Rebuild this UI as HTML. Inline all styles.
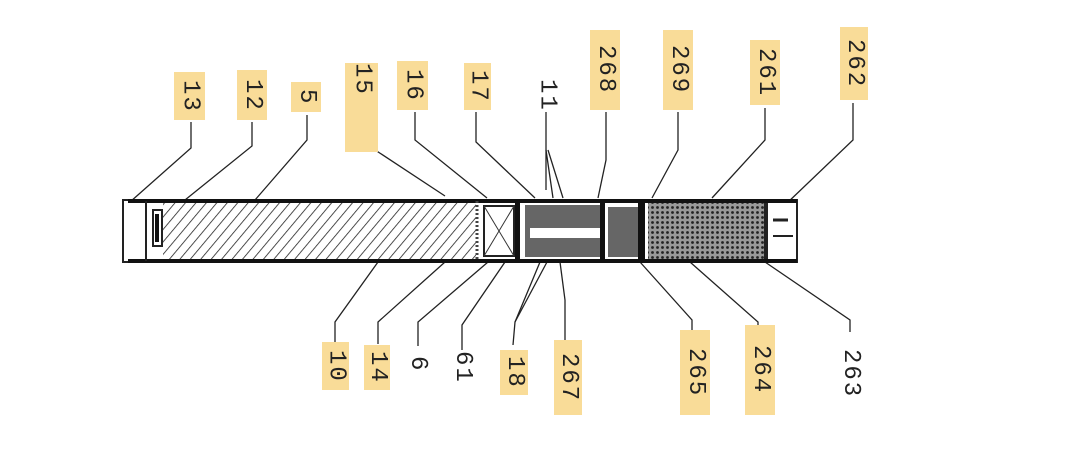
<!DOCTYPE html>
<html><head><meta charset="utf-8"><style>
html,body{margin:0;padding:0;background:#fff;width:1080px;height:455px;overflow:hidden}
.l{position:absolute;writing-mode:vertical-rl;font-family:"Liberation Mono",monospace;font-size:24px;color:#222;line-height:28px;text-align:center;letter-spacing:2px;display:flex;align-items:center;justify-content:center}
.y{background:#f9dc98}
</style></head><body>
<svg width="1080" height="455" style="position:absolute;left:0;top:0">
<defs>
<pattern id="h" width="8" height="8" patternUnits="userSpaceOnUse" patternTransform="rotate(40)"><line x1="0" y1="0" x2="0" y2="8" stroke="#222" stroke-width="1.6"/></pattern>
<pattern id="c" width="5" height="5" patternUnits="userSpaceOnUse"><rect width="5" height="5" fill="#999"/><circle cx="2.5" cy="2.5" r="1.4" fill="#222"/></pattern>
</defs>
<g stroke="#222" stroke-width="1.3" fill="none">
<polyline points="191,122 191,148 130,202"/>
<polyline points="252,122 252,146 185,200"/>
<polyline points="307,115 307,140 255,200"/>
<polyline points="360,115 360,140 445,196"/>
<polyline points="415,112 415,140 487,198"/>
<polyline points="476,112 476,142 535,198"/>
<polyline points="546,112 546,190"/><line x1="546" y1="150" x2="553" y2="198"/><line x1="548" y1="150" x2="563" y2="198"/>
<polyline points="606,112 606,160 598,198"/>
<polyline points="678,112 678,150 652,198"/>
<polyline points="765,108 765,140 712,198"/>
<polyline points="853,103 853,140 785,205"/>
<polyline points="335,342 335,322 378,262"/>
<polyline points="378,344 378,322 445,262"/>
<polyline points="418,346 418,322 488,262"/>
<polyline points="462,350 462,325 505,262"/>
<polyline points="513,345 515,322 540,262"/><line x1="515" y1="322" x2="547" y2="262"/>
<polyline points="565,340 565,300 560,262"/>
<polyline points="692,332 692,320 640,262"/>
<polyline points="758,330 758,322 690,262"/>
<polyline points="850,332 850,320 765,262"/>
</g>
<rect x="123" y="200" width="674" height="62" fill="#fff" stroke="#222" stroke-width="2"/>
<rect x="128" y="199" width="669" height="4" fill="#111"/>
<rect x="128" y="259" width="669" height="4" fill="#111"/>
<line x1="146" y1="201" x2="146" y2="261" stroke="#222" stroke-width="2"/>
<rect x="153" y="210" width="9" height="36" fill="none" stroke="#222" stroke-width="2"/>
<rect x="155" y="214" width="4" height="28" fill="#111"/>
<rect x="163" y="203" width="313" height="56" fill="url(#h)"/>
<line x1="477" y1="201" x2="477" y2="261" stroke="#444" stroke-width="3" stroke-dasharray="2 2"/>
<rect x="484" y="206" width="30" height="50" fill="none" stroke="#222" stroke-width="2"/>
<line x1="484" y1="206" x2="514" y2="256" stroke="#333"/><line x1="514" y1="206" x2="484" y2="256" stroke="#333"/>
<rect x="515" y="201" width="5" height="60" fill="#111"/>
<rect x="525" y="205" width="75" height="52" fill="#666"/>
<rect x="530" y="228" width="70" height="10" fill="#fff"/>
<rect x="600" y="201" width="5" height="60" fill="#111"/>
<rect x="608" y="207" width="30" height="50" fill="#666"/>
<rect x="638" y="203" width="7" height="56" fill="#111"/>
<rect x="648" y="203" width="116" height="56" fill="url(#c)"/>
<rect x="764" y="203" width="4" height="56" fill="#222"/>
<line x1="773" y1="220" x2="788" y2="220" stroke="#222" stroke-width="3"/>
<line x1="773" y1="236" x2="793" y2="236" stroke="#222" stroke-width="2"/>
</svg>
<div class="l y" style="left:174px;top:72px;width:31px;height:48px">13</div>
<div class="l y" style="left:237px;top:70px;width:30px;height:50px">12</div>
<div class="l y" style="left:291px;top:82px;width:30px;height:30px">5</div>
<div class="l y" style="left:345px;top:63px;width:33px;height:89px;justify-content:flex-start;padding-top:0">15</div>
<div class="l y" style="left:397px;top:61px;width:31px;height:49px">16</div>
<div class="l y" style="left:464px;top:63px;width:27px;height:47px">17</div>
<div class="l" style="left:533px;top:80px;width:27px;height:30px">11</div>
<div class="l y" style="left:590px;top:30px;width:30px;height:80px">268</div>
<div class="l y" style="left:663px;top:30px;width:30px;height:80px">269</div>
<div class="l y" style="left:750px;top:40px;width:30px;height:65px">261</div>
<div class="l y" style="left:840px;top:27px;width:28px;height:73px">262</div>
<div class="l y" style="left:322px;top:342px;width:27px;height:48px">10</div>
<div class="l y" style="left:364px;top:345px;width:26px;height:45px">14</div>
<div class="l" style="left:404px;top:350px;width:26px;height:28px">6</div>
<div class="l" style="left:449px;top:352px;width:26px;height:30px">61</div>
<div class="l y" style="left:500px;top:350px;width:28px;height:45px">18</div>
<div class="l y" style="left:554px;top:340px;width:28px;height:75px">267</div>
<div class="l y" style="left:680px;top:330px;width:30px;height:85px">265</div>
<div class="l y" style="left:745px;top:325px;width:30px;height:90px">264</div>
<div class="l" style="left:836px;top:332px;width:28px;height:83px">263</div>
</body></html>
